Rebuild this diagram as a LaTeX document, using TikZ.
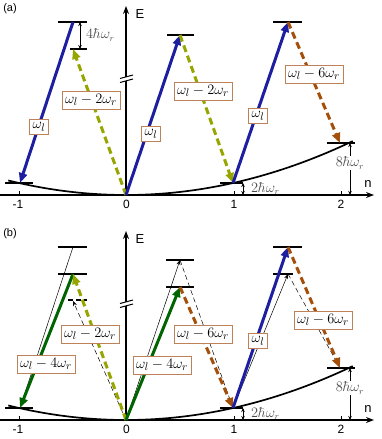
\documentclass[tikz,border=0pt]{standalone}
\usepackage{fontspec}
\newfontfamily\hv{Liberation Sans}
\usetikzlibrary{arrows.meta}
\definecolor{cblue}{RGB}{30,30,160}
\definecolor{colive}{RGB}{150,165,0}
\definecolor{cbrown}{RGB}{165,80,10}
\definecolor{cgreen}{RGB}{0,100,0}
\definecolor{cbox}{RGB}{190,130,90}
\definecolor{cgray}{RGB}{75,75,75}
\tikzset{
 lvl/.style={line width=1.1pt},
 dlvl/.style={line width=1.1pt, dash pattern=on 5pt off 3pt},
 bigarrow/.style={line width=3pt, -{Triangle[length=10pt,width=8pt]}},
 dasharrow/.style={bigarrow, dash pattern=on 7pt off 4pt},
 thinline/.style={line width=0.5pt},
 thindash/.style={line width=0.5pt, dash pattern=on 5pt off 3pt},
 thinarrow/.style={line width=0.5pt, -{Stealth[length=5pt,width=4pt]}},
 lbl/.style={draw=cbox, line width=0.9pt, fill=white, inner xsep=3pt, inner ysep=3pt, font=\fontsize{15}{18}\selectfont},
 meas/.style={line width=0.6pt, {Stealth[length=4pt,width=3.5pt]}-{Stealth[length=4pt,width=3.5pt]}},
 mlbl/.style={text=cgray, font=\fontsize{13.5}{15}\selectfont, inner sep=1pt},
 axisline/.style={line width=1.5pt, -{Stealth[length=8pt,width=6pt]}},
 axlbl/.style={font=\hv\fontsize{13}{15}\selectfont, inner sep=0pt},
 ticklbl/.style={font=\hv\fontsize{12}{14}\selectfont, inner sep=0pt},
 curve/.style={line width=1.7pt}
}
\begin{document}
\begin{tikzpicture}[x=1pt,y=-1pt]
\useasboundingbox (0,0) rectangle (382,439);
% ---------- common axes for both panels ----------
\foreach \p/\dy in {a/0,b/225}{
\begin{scope}[shift={(0,\dy)}]
 \draw[curve] plot[domain=-1.1:2.12,samples=60] ({126+107*\x},{195-12*\x*\x});
 \coordinate (O\p) at (126,195);
 \coordinate (Etop\p) at (126,6);
 \coordinate (Xl\p) at (0,195);
 \coordinate (Xr\p) at (374,195);
 \draw[axisline] (Xl\p) -- (Xr\p);
 \draw[axisline] (O\p) -- (Etop\p);
 \fill[white] (120,78.5) -- (133,75) -- (133,79) -- (120,82.5) -- cycle;
 \draw[line width=1pt] (120,78.5) -- (133,75);
 \draw[line width=1pt] (120,82.5) -- (133,79);
 \node[axlbl] (E\p) at (140,14.5) {E};
 \node[axlbl] (n\p) at (368,184) {n};
 \node[font=\hv\fontsize{11}{13}\selectfont, inner sep=0pt] (pl\p) at (10,9) {(\p)};
 \foreach \t/\xx in {m1/19,p1/234,p2/341}{
  \coordinate (tk\t\p) at (\xx,195);
  \draw[line width=0.6pt] (tk\t\p) -- ++(0,-4);
 }
 \node[ticklbl] (tl1\p) at (18,204) {-1};
 \node[ticklbl] (tl2\p) at (126.5,204) {0};
 \node[ticklbl] (tl3\p) at (234,204) {1};
 \node[ticklbl] (tl4\p) at (341,204) {2};
 % ground levels
 \coordinate (gm1\p) at (20,183);
 \coordinate (g1\p) at (233,183);
 \coordinate (g2\p) at (340,143);
 \draw[lvl] (5,183) -- (33,183);
 \draw[lvl] (220,183) -- (243,183);
 \draw[lvl] (327,143) -- (355,143);
 % measurement arrows
 \coordinate (m2a\p) at (243,183);
 \coordinate (m2b\p) at (243,195);
 \draw[meas] (m2a\p) -- (m2b\p);
 \node[mlbl, anchor=west] (m2l\p) at (250,188.5) {$2\hbar\omega_r$};
 \coordinate (m8a\p) at (350,143);
 \coordinate (m8b\p) at (350,195);
 \draw[meas] (m8a\p) -- (m8b\p);
 \node[mlbl, fill=white] (m8l\p) at (350,163) {$8\hbar\omega_r$};
\end{scope}
}
% ---------- panel (a) ----------
\coordinate (A1) at (73,22);
\coordinate (A2) at (73,49);
\coordinate (A3) at (180,35);
\coordinate (A4) at (288,22);
\draw[lvl] (58,22) -- (87,22);
\draw[lvl] (70,49) -- (87,49);
\draw[lvl] (167,35) -- (194,35);
\draw[lvl] (273,22) -- (302,22);
\draw[bigarrow, cblue] (A1) -- (gm1a);
\draw[dasharrow, colive] (Oa) -- (A2);
\draw[bigarrow, cblue] (Oa) -- (A3);
\draw[dasharrow, colive] (A3) -- (g1a);
\draw[bigarrow, cblue] (g1a) -- (A4);
\draw[dasharrow, cbrown] (A4) -- (g2a);
\node[lbl] (la1) at (39,127) {$\omega_l$};
\node[lbl] (la2) at (91,100) {$\omega_l-2\omega_r$};
\node[lbl] (la3) at (151,134) {$\omega_l$};
\node[lbl] (la4) at (203,91) {$\omega_l-2\omega_r$};
\node[lbl] (la5) at (258,116) {$\omega_l$};
\node[lbl] (la6) at (314,74) {$\omega_l-6\omega_r$};
\coordinate (m4a) at (80,22);
\coordinate (m4b) at (80,49);
\draw[meas] (m4a) -- (m4b);
\node[mlbl, anchor=west] (m4l) at (85,35) {$4\hbar\omega_r$};
% ---------- panel (b) ----------
\begin{scope}[shift={(0,225)}]
\coordinate (B1) at (73,22);
\coordinate (B2) at (73,49);
\coordinate (B2d) at (73,76);
\coordinate (B3) at (180,35);
\coordinate (B3l) at (180,62);
\coordinate (B4) at (288,22);
\coordinate (B4l) at (288,49);
\draw[lvl] (58,22) -- (87,22);
\draw[lvl] (58,49) -- (87,49);
\draw[dlvl] (68,75) -- (87,75);
\draw[lvl] (166,35) -- (194,35);
\draw[lvl] (166,62) -- (194,62);
\draw[lvl] (273,22) -- (302,22);
\draw[lvl] (273,49) -- (293,49);
% thin reference transitions
\draw[thinline] (B1) -- (gm1b);
\draw[thinarrow, dash pattern=on 5pt off 3pt] (Ob) -- (B2d);
\draw[thinarrow] (Ob) -- (B3);
\draw[thindash] (B3) -- (g1b);
\draw[thinarrow] (g1b) -- (B4l);
\draw[thindash] (B4l) -- (g2b);
% thick transitions
\draw[bigarrow, cgreen] (B2) -- (gm1b);
\draw[dasharrow, colive] (Ob) -- (B2);
\draw[bigarrow, cgreen] (Ob) -- (B3l);
\draw[dasharrow, cbrown] (B3l) -- (g1b);
\draw[bigarrow, cblue] (g1b) -- (B4);
\draw[dasharrow, cbrown] (B4) -- (g2b);
\node[lbl] (lb1) at (46,139) {$\omega_l-4\omega_r$};
\node[lbl] (lb2) at (90,109) {$\omega_l-2\omega_r$};
\node[lbl] (lb3) at (162,140) {$\omega_l-4\omega_r$};
\node[lbl] (lb4) at (203,109) {$\omega_l-6\omega_r$};
\node[lbl] (lb5) at (258,116) {$\omega_l$};
\node[lbl] (lb6) at (323,95) {$\omega_l-6\omega_r$};
\end{scope}
\end{tikzpicture}
\end{document}
